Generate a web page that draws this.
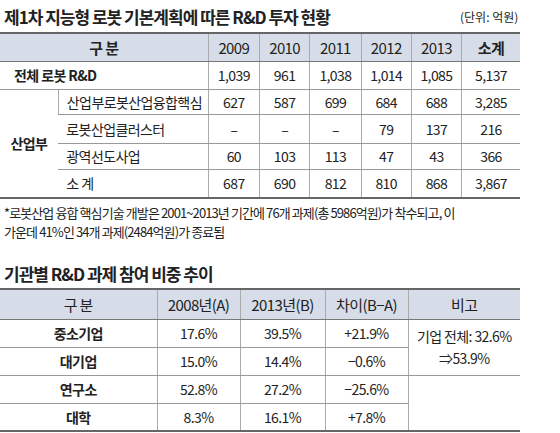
<!DOCTYPE html><html><head><meta charset="utf-8">
<script src="https://cdn.jsdelivr.net/npm/chart.js@4"></script>
<style>
body{margin:0;width:560px;height:433px;background:#fff;font-family:"Noto Sans CJK KR",sans-serif;color:#222;position:relative;overflow:hidden}
.t{position:absolute;font-size:17px;font-weight:bold;letter-spacing:-1px}
table{position:absolute;border-collapse:collapse;table-layout:fixed;font-size:14px;letter-spacing:-0.6px}
td{text-align:center;padding:0;border-bottom:1px solid #999;border-left:1px solid #aaa;white-space:nowrap}
td:first-child{border-left:none}
tr.h td{background:#d6dde8;font-size:15px;border-bottom:1px solid #777}
table{border-top:2px solid #666;border-bottom:2px solid #666}
.b{font-weight:bold}
.note{position:absolute;left:4px;top:203px;font-size:13px;line-height:19px;letter-spacing:-0.9px}
</style></head><body>
<div class="t" style="left:4px;top:4px">제1차 지능형 로봇 기본계획에 따른 R&amp;D 투자 현황</div>
<div style="position:absolute;left:460px;top:8px;font-size:12px">(단위: 억원)</div>
<table id="t1" style="left:0;top:32px;width:520px"></table>
<div class="note">*로봇산업 융합 핵심기술 개발은 2001~2013년 기간에 76개 과제(총 5986억원)가 착수되고, 이<br>가운데 41%인 34개 과제(2484억원)가 종료됨</div>
<div class="t" style="left:4px;top:261px">기관별 R&amp;D 과제 참여 비중 추이</div>
<table id="t2" style="left:0;top:288px;width:520px"></table>
<script>
const years=["2009","2010","2011","2012","2013","소계"];
const totalRow=["1,039","961","1,038","1,014","1,085","5,137"];
const subLabels=["산업부로봇산업융합핵심","로봇산업클러스터","광역선도사업","소 계"];
const subValues=[["627","587","699","684","688","3,285"],["–","–","–","79","137","216"],["60","103","113","47","43","366"],["687","690","812","810","868","3,867"]];
const cats2=["중소기업","대기업","연구소","대학"];
const colA=["17.6%","15.0%","52.8%","8.3%"];
const colB=["39.5%","14.4%","27.2%","16.1%"];
const colD=["+21.9%","−0.6%","−25.6%","+7.8%"];
const note2="기업 전체: 32.6%<br>⇒53.9%";
let h='<colgroup><col style="width:58px"><col style="width:149px">'+years.map((y,i)=>'<col style="width:'+(i==5?58:i==2||i==0?51:50)+'px">').join('')+'</colgroup>';
h+='<tr class="h" style="height:28px"><td colspan=2 class="b">구 분</td>'+years.map((y,i)=>'<td'+(i==5?' class="b"':'')+'>'+y+'</td>').join('')+'</tr>';
h+='<tr style="height:28px"><td colspan=2 class="b" style="text-align:left;padding-left:14px">전체 로봇 R&amp;D</td>'+totalRow.map(v=>'<td>'+v+'</td>').join('')+'</tr>';
subLabels.forEach((l,i)=>{h+='<tr style="height:'+[25,29,26,29][i]+'px">'+(i==0?'<td rowspan=4 class="b" style="border-bottom:none">산업부</td>':'')+'<td style="text-align:left;padding-left:8px">'+l+'</td>'+subValues[i].map(v=>'<td>'+v+'</td>').join('')+'</tr>'});
document.getElementById('t1').innerHTML=h;
let g='<colgroup><col style="width:157px"><col style="width:83px"><col style="width:85px"><col style="width:83px"><col style="width:112px"></colgroup>';
g+='<tr class="h" style="height:30px"><td>구 분</td><td>2008년(A)</td><td>2013년(B)</td><td>차이(B−A)</td><td>비고</td></tr>';
cats2.forEach((c,i)=>{g+='<tr style="height:28px"><td class="b">'+c+'</td><td>'+colA[i]+'</td><td>'+colB[i]+'</td><td>'+colD[i]+'</td>'+(i==0?'<td rowspan=2 style="line-height:22px">'+note2+'</td>':i==2?'<td rowspan=2></td>':'')+'</tr>'});
document.getElementById('t2').innerHTML=g;
</script></body></html>
